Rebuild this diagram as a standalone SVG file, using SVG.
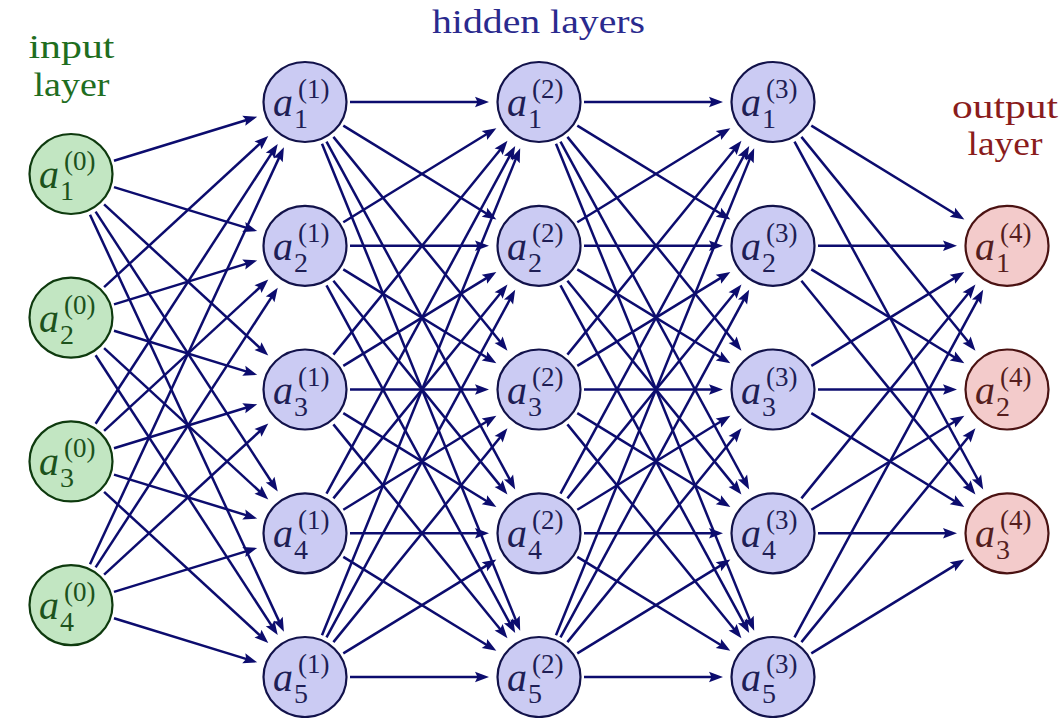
<svg xmlns="http://www.w3.org/2000/svg" width="1063" height="718" viewBox="0 0 1063 718">
<style>
.e{stroke:#0c0c6e;stroke-width:2.5;fill:none;marker-end:url(#ah)}
.ni ellipse{fill:#c2e6c2;stroke:#0e3a0e;stroke-width:2.2}
.nh ellipse{fill:#cbcbf3;stroke:#12124a;stroke-width:2.2}
.no ellipse{fill:#f3cbcb;stroke:#4a1212;stroke-width:2.2}
.ni text{fill:#1c521c}
.nh text{fill:#1e1e55}
.no text{fill:#551e1e}
text{font-family:"Liberation Serif","Times New Roman",serif}
.a{font-style:italic;font-size:40px}
.s{font-size:28px}
.p{font-size:27px}
.t{font-size:34px}
</style>
<defs>
<marker id="ah" markerUnits="userSpaceOnUse" orient="auto" refX="0" refY="0" markerWidth="20" markerHeight="20" overflow="visible">
<path d="M5,0 L-9,-5.2 L-6.5,0 L-9,5.2 Z" fill="#0c0c6e"/>
</marker>
</defs>
<g id="titles">
<text class="t" x="71.5" y="58" text-anchor="middle" fill="#1f6e1f" textLength="86" lengthAdjust="spacingAndGlyphs">input</text>
<text class="t" x="71.5" y="96" text-anchor="middle" fill="#1f6e1f" textLength="76" lengthAdjust="spacingAndGlyphs">layer</text>
<text class="t" x="538.5" y="33" text-anchor="middle" fill="#2a2a8e" textLength="213" lengthAdjust="spacingAndGlyphs">hidden layers</text>
<text class="t" x="1005" y="118" text-anchor="middle" fill="#8a1c1c" textLength="106" lengthAdjust="spacingAndGlyphs">output</text>
<text class="t" x="1005" y="155" text-anchor="middle" fill="#8a1c1c" textLength="75" lengthAdjust="spacingAndGlyphs">layer</text>
</g>
<g id="connectors">
<line class="e" x1="114.0" y1="160.7" x2="252.4" y2="118.2"/>
<line class="e" x1="114.0" y1="187.1" x2="252.4" y2="229.6"/>
<line class="e" x1="104.1" y1="204.4" x2="264.6" y2="352.2"/>
<line class="e" x1="95.6" y1="211.6" x2="275.0" y2="487.2"/>
<line class="e" x1="90.0" y1="214.7" x2="281.8" y2="627.1"/>
<line class="e" x1="104.1" y1="287.1" x2="264.6" y2="139.3"/>
<line class="e" x1="114.0" y1="304.4" x2="252.4" y2="261.9"/>
<line class="e" x1="114.0" y1="330.8" x2="252.4" y2="373.4"/>
<line class="e" x1="104.1" y1="348.1" x2="264.6" y2="496.0"/>
<line class="e" x1="95.6" y1="355.3" x2="275.0" y2="630.9"/>
<line class="e" x1="95.6" y1="423.7" x2="275.0" y2="148.1"/>
<line class="e" x1="104.1" y1="430.9" x2="264.6" y2="283.0"/>
<line class="e" x1="114.0" y1="448.2" x2="252.4" y2="405.7"/>
<line class="e" x1="114.0" y1="474.6" x2="252.4" y2="517.1"/>
<line class="e" x1="104.1" y1="491.9" x2="264.6" y2="639.7"/>
<line class="e" x1="90.0" y1="564.3" x2="281.8" y2="151.9"/>
<line class="e" x1="95.6" y1="567.4" x2="275.0" y2="291.9"/>
<line class="e" x1="104.1" y1="574.6" x2="264.6" y2="426.8"/>
<line class="e" x1="114.0" y1="591.9" x2="252.4" y2="549.4"/>
<line class="e" x1="114.0" y1="618.3" x2="252.4" y2="660.9"/>

<line class="e" x1="350" y1="102" x2="484" y2="102"/>
<line class="e" x1="343.3" y1="125.6" x2="492.1" y2="217.0"/>
<line class="e" x1="333.4" y1="136.9" x2="504.3" y2="346.8"/>
<line class="e" x1="326.5" y1="141.6" x2="512.8" y2="485.0"/>
<line class="e" x1="322.0" y1="143.7" x2="518.3" y2="626.1"/>
<line class="e" x1="343.3" y1="222.2" x2="492.1" y2="130.8"/>
<line class="e" x1="350" y1="245.8" x2="484" y2="245.8"/>
<line class="e" x1="343.3" y1="269.4" x2="492.1" y2="360.7"/>
<line class="e" x1="333.4" y1="280.7" x2="504.3" y2="490.6"/>
<line class="e" x1="326.5" y1="285.4" x2="512.8" y2="628.7"/>
<line class="e" x1="333.4" y1="354.6" x2="504.3" y2="144.7"/>
<line class="e" x1="343.3" y1="365.9" x2="492.1" y2="274.6"/>
<line class="e" x1="350" y1="389.5" x2="484" y2="389.5"/>
<line class="e" x1="343.3" y1="413.1" x2="492.1" y2="504.5"/>
<line class="e" x1="333.4" y1="424.4" x2="504.3" y2="634.3"/>
<line class="e" x1="326.5" y1="493.7" x2="512.8" y2="150.3"/>
<line class="e" x1="333.4" y1="498.4" x2="504.3" y2="288.5"/>
<line class="e" x1="343.3" y1="509.7" x2="492.1" y2="418.3"/>
<line class="e" x1="350" y1="533.3" x2="484" y2="533.3"/>
<line class="e" x1="343.3" y1="556.9" x2="492.1" y2="648.2"/>
<line class="e" x1="322.0" y1="635.3" x2="518.3" y2="152.9"/>
<line class="e" x1="326.5" y1="637.4" x2="512.8" y2="294.1"/>
<line class="e" x1="333.4" y1="642.1" x2="504.3" y2="432.2"/>
<line class="e" x1="343.3" y1="653.4" x2="492.1" y2="562.1"/>
<line class="e" x1="350" y1="677" x2="484" y2="677"/>

<line class="e" x1="584" y1="102" x2="718" y2="102"/>
<line class="e" x1="577.3" y1="125.6" x2="726.1" y2="217.0"/>
<line class="e" x1="567.4" y1="136.9" x2="738.3" y2="346.8"/>
<line class="e" x1="560.5" y1="141.6" x2="746.8" y2="485.0"/>
<line class="e" x1="556.0" y1="143.7" x2="752.3" y2="626.1"/>
<line class="e" x1="577.3" y1="222.2" x2="726.1" y2="130.8"/>
<line class="e" x1="584" y1="245.8" x2="718" y2="245.8"/>
<line class="e" x1="577.3" y1="269.4" x2="726.1" y2="360.7"/>
<line class="e" x1="567.4" y1="280.7" x2="738.3" y2="490.6"/>
<line class="e" x1="560.5" y1="285.4" x2="746.8" y2="628.7"/>
<line class="e" x1="567.4" y1="354.6" x2="738.3" y2="144.7"/>
<line class="e" x1="577.3" y1="365.9" x2="726.1" y2="274.6"/>
<line class="e" x1="584" y1="389.5" x2="718" y2="389.5"/>
<line class="e" x1="577.3" y1="413.1" x2="726.1" y2="504.5"/>
<line class="e" x1="567.4" y1="424.4" x2="738.3" y2="634.3"/>
<line class="e" x1="560.5" y1="493.7" x2="746.8" y2="150.3"/>
<line class="e" x1="567.4" y1="498.4" x2="738.3" y2="288.5"/>
<line class="e" x1="577.3" y1="509.7" x2="726.1" y2="418.3"/>
<line class="e" x1="584" y1="533.3" x2="718" y2="533.3"/>
<line class="e" x1="577.3" y1="556.9" x2="726.1" y2="648.2"/>
<line class="e" x1="556.0" y1="635.3" x2="752.3" y2="152.9"/>
<line class="e" x1="560.5" y1="637.4" x2="746.8" y2="294.1"/>
<line class="e" x1="567.4" y1="642.1" x2="738.3" y2="432.2"/>
<line class="e" x1="577.3" y1="653.4" x2="726.1" y2="562.1"/>
<line class="e" x1="584" y1="677" x2="718" y2="677"/>

<line class="e" x1="811.3" y1="125.6" x2="960.1" y2="217.0"/>
<line class="e" x1="801.4" y1="136.9" x2="972.3" y2="346.8"/>
<line class="e" x1="794.5" y1="141.6" x2="980.8" y2="485.0"/>
<line class="e" x1="818" y1="245.8" x2="952" y2="245.8"/>
<line class="e" x1="811.3" y1="269.4" x2="960.1" y2="360.7"/>
<line class="e" x1="801.4" y1="280.7" x2="972.3" y2="490.6"/>
<line class="e" x1="811.3" y1="365.9" x2="960.1" y2="274.6"/>
<line class="e" x1="818" y1="389.5" x2="952" y2="389.5"/>
<line class="e" x1="811.3" y1="413.1" x2="960.1" y2="504.5"/>
<line class="e" x1="801.4" y1="498.4" x2="972.3" y2="288.5"/>
<line class="e" x1="811.3" y1="509.7" x2="960.1" y2="418.3"/>
<line class="e" x1="818" y1="533.3" x2="952" y2="533.3"/>
<line class="e" x1="794.5" y1="637.4" x2="980.8" y2="294.1"/>
<line class="e" x1="801.4" y1="642.1" x2="972.3" y2="432.2"/>
<line class="e" x1="811.3" y1="653.4" x2="960.1" y2="562.1"/>
</g>

<g id="in1" class="ni"><ellipse cx="71" cy="174" rx="41.5" ry="40"/><text><tspan class="a" x="39" y="188">a</tspan><tspan class="s" x="60" y="200">1</tspan><tspan class="p" x="64" y="170">(0)</tspan></text></g>
<g id="in2" class="ni"><ellipse cx="71" cy="317.6" rx="41.5" ry="40"/><text><tspan class="a" x="39" y="331.6">a</tspan><tspan class="s" x="60" y="343.6">2</tspan><tspan class="p" x="64" y="313.6">(0)</tspan></text></g>
<g id="in3" class="ni"><ellipse cx="71" cy="461.4" rx="41.5" ry="40"/><text><tspan class="a" x="39" y="475.4">a</tspan><tspan class="s" x="60" y="487.4">3</tspan><tspan class="p" x="64" y="457.4">(0)</tspan></text></g>
<g id="in4" class="ni"><ellipse cx="71" cy="605.1" rx="41.5" ry="40"/><text><tspan class="a" x="39" y="619.1">a</tspan><tspan class="s" x="60" y="631.1">4</tspan><tspan class="p" x="64" y="601.1">(0)</tspan></text></g>

<g id="h1_1" class="nh"><ellipse cx="305" cy="102" rx="41.5" ry="40"/><text><tspan class="a" x="273" y="116">a</tspan><tspan class="s" x="294" y="128">1</tspan><tspan class="p" x="298" y="98">(1)</tspan></text></g>
<g id="h1_2" class="nh"><ellipse cx="305" cy="245.8" rx="41.5" ry="40"/><text><tspan class="a" x="273" y="259.8">a</tspan><tspan class="s" x="294" y="271.8">2</tspan><tspan class="p" x="298" y="241.8">(1)</tspan></text></g>
<g id="h1_3" class="nh"><ellipse cx="305" cy="389.5" rx="41.5" ry="40"/><text><tspan class="a" x="273" y="403.5">a</tspan><tspan class="s" x="294" y="415.5">3</tspan><tspan class="p" x="298" y="385.5">(1)</tspan></text></g>
<g id="h1_4" class="nh"><ellipse cx="305" cy="533.3" rx="41.5" ry="40"/><text><tspan class="a" x="273" y="547.3">a</tspan><tspan class="s" x="294" y="559.3">4</tspan><tspan class="p" x="298" y="529.3">(1)</tspan></text></g>
<g id="h1_5" class="nh"><ellipse cx="305" cy="677" rx="41.5" ry="40"/><text><tspan class="a" x="273" y="691">a</tspan><tspan class="s" x="294" y="703">5</tspan><tspan class="p" x="298" y="673">(1)</tspan></text></g>

<g id="h2_1" class="nh"><ellipse cx="539" cy="102" rx="41.5" ry="40"/><text><tspan class="a" x="507" y="116">a</tspan><tspan class="s" x="528" y="128">1</tspan><tspan class="p" x="532" y="98">(2)</tspan></text></g>
<g id="h2_2" class="nh"><ellipse cx="539" cy="245.8" rx="41.5" ry="40"/><text><tspan class="a" x="507" y="259.8">a</tspan><tspan class="s" x="528" y="271.8">2</tspan><tspan class="p" x="532" y="241.8">(2)</tspan></text></g>
<g id="h2_3" class="nh"><ellipse cx="539" cy="389.5" rx="41.5" ry="40"/><text><tspan class="a" x="507" y="403.5">a</tspan><tspan class="s" x="528" y="415.5">3</tspan><tspan class="p" x="532" y="385.5">(2)</tspan></text></g>
<g id="h2_4" class="nh"><ellipse cx="539" cy="533.3" rx="41.5" ry="40"/><text><tspan class="a" x="507" y="547.3">a</tspan><tspan class="s" x="528" y="559.3">4</tspan><tspan class="p" x="532" y="529.3">(2)</tspan></text></g>
<g id="h2_5" class="nh"><ellipse cx="539" cy="677" rx="41.5" ry="40"/><text><tspan class="a" x="507" y="691">a</tspan><tspan class="s" x="528" y="703">5</tspan><tspan class="p" x="532" y="673">(2)</tspan></text></g>

<g id="h3_1" class="nh"><ellipse cx="773" cy="102" rx="41.5" ry="40"/><text><tspan class="a" x="741" y="116">a</tspan><tspan class="s" x="762" y="128">1</tspan><tspan class="p" x="766" y="98">(3)</tspan></text></g>
<g id="h3_2" class="nh"><ellipse cx="773" cy="245.8" rx="41.5" ry="40"/><text><tspan class="a" x="741" y="259.8">a</tspan><tspan class="s" x="762" y="271.8">2</tspan><tspan class="p" x="766" y="241.8">(3)</tspan></text></g>
<g id="h3_3" class="nh"><ellipse cx="773" cy="389.5" rx="41.5" ry="40"/><text><tspan class="a" x="741" y="403.5">a</tspan><tspan class="s" x="762" y="415.5">3</tspan><tspan class="p" x="766" y="385.5">(3)</tspan></text></g>
<g id="h3_4" class="nh"><ellipse cx="773" cy="533.3" rx="41.5" ry="40"/><text><tspan class="a" x="741" y="547.3">a</tspan><tspan class="s" x="762" y="559.3">4</tspan><tspan class="p" x="766" y="529.3">(3)</tspan></text></g>
<g id="h3_5" class="nh"><ellipse cx="773" cy="677" rx="41.5" ry="40"/><text><tspan class="a" x="741" y="691">a</tspan><tspan class="s" x="762" y="703">5</tspan><tspan class="p" x="766" y="673">(3)</tspan></text></g>

<g id="out1" class="no"><ellipse cx="1007" cy="245.8" rx="41.5" ry="40"/><text><tspan class="a" x="975" y="259.8">a</tspan><tspan class="s" x="996" y="271.8">1</tspan><tspan class="p" x="1000" y="241.8">(4)</tspan></text></g>
<g id="out2" class="no"><ellipse cx="1007" cy="389.5" rx="41.5" ry="40"/><text><tspan class="a" x="975" y="403.5">a</tspan><tspan class="s" x="996" y="415.5">2</tspan><tspan class="p" x="1000" y="385.5">(4)</tspan></text></g>
<g id="out3" class="no"><ellipse cx="1007" cy="533.3" rx="41.5" ry="40"/><text><tspan class="a" x="975" y="547.3">a</tspan><tspan class="s" x="996" y="559.3">3</tspan><tspan class="p" x="1000" y="529.3">(4)</tspan></text></g>
</svg>
